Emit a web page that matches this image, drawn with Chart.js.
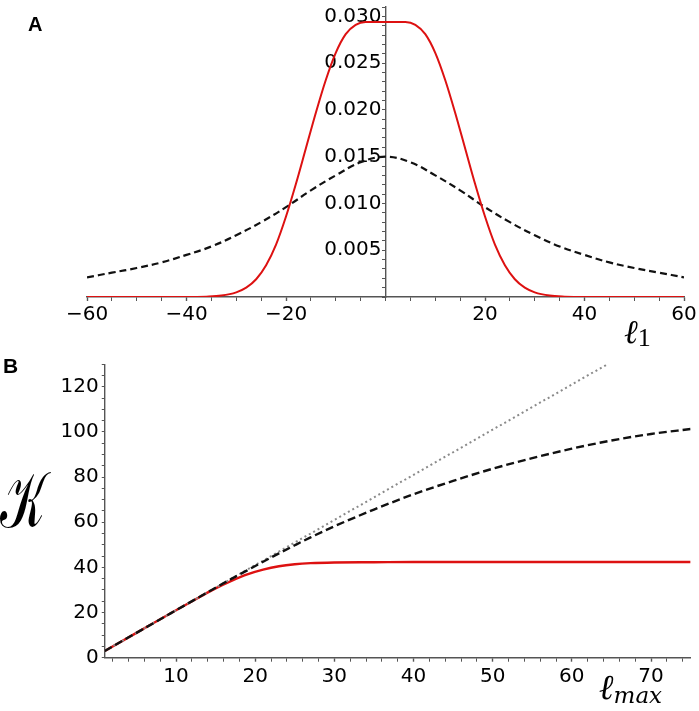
<!DOCTYPE html>
<html>
<head>
<meta charset="utf-8">
<script src="https://cdn.jsdelivr.net/npm/chart.js@4.4.1/dist/chart.umd.min.js"></script>
<style>
  html, body { margin: 0; padding: 0; background: #fff; }
  #wrap { position: relative; width: 699px; height: 711px; overflow: hidden; }
  canvas { position: absolute; left: 0; }
  .lbl { position: absolute; line-height: 1; white-space: nowrap; color: #000; }
  .panel { font-family: "Liberation Sans", Arial, sans-serif; font-weight: bold; font-size: 20px; }
  .math { font-family: "DejaVu Serif", "Liberation Serif", serif; font-style: italic; }
</style>
</head>
<body>
<div id="wrap">
  <canvas id="chartA" width="699" height="340" style="top:0"></canvas>
  <canvas id="chartB" width="699" height="371" style="top:340px"></canvas>
  <div class="lbl panel" style="left:28px;top:14px;">A</div>
  <div class="lbl panel" style="left:3px;top:355px;font-size:21px;">B</div>
  <div class="lbl math" style="left:624px;top:315px;font-size:33px;">ℓ<span style="font-style:normal;font-family:'Liberation Serif',serif;font-size:26px;vertical-align:-3px;">1</span></div>
  <div class="lbl" style="left:0px;top:462px;font-size:62px;font-family:'DejaVu Serif','Noto Sans',serif;font-style:normal;font-weight:normal;transform:scale(0.78,1.25);transform-origin:0 0;">𝒦</div>
  <div class="lbl math" style="left:599px;top:670px;font-size:35px;">ℓ<span style="font-size:23px;vertical-align:-4px;">max</span></div>
</div>
<script>
// ---------- Panel A data ----------
const aX    = [-60,-55,-50,-45,-40,-36,-33,-30,-28,-26,-24,-22,-20,-18,-16,-14,-12,-10,-8,-6,-4,
               0,
               4,6,8,10,12,14,16,18,20,22,24,26,28,30,33,36,40,45,50,55,60];
const aRed  = [0,0,0,0,0,0.00004,0.00015,0.0005,0.0010,0.0019,0.0034,0.0056,0.0086,0.0121,0.0159,0.0197,0.0232,0.0261,0.0281,0.0291,0.0294,
               0.0294,
               0.0294,0.0291,0.0281,0.0261,0.0232,0.0197,0.0159,0.0121,0.0086,0.0056,0.0034,0.0019,0.0010,0.0005,0.00015,0.00004,0,0,0,0,0];
const aDashX = [-60,-55,-50,-45,-40,-35,-30,-25,-20,-15,-10,-5,0,5,10,15,20,25,30,35,40,45,50,55,60];
const aDash  = [0.0021,0.0026,0.0031,0.0037,0.0045,0.0054,0.0066,0.0080,0.0096,0.0114,0.0130,0.0144,0.0150,
                0.0144,0.0130,0.0114,0.0096,0.0080,0.0066,0.0054,0.0045,0.0037,0.0031,0.0026,0.0021];
const aXLabelVals = [-60,-40,-20,20,40,60];
const aXLabels    = ['\u221260','\u221240','\u221220','20','40','60'];
const aYLabelVals = [0.005,0.010,0.015,0.020,0.025,0.030];
const aYLabels    = ['0.005','0.010','0.015','0.020','0.025','0.030'];

// ---------- Panel B data ----------
const bX    = [1,5,10,13,15,17,19,21,23,25,27,30,35,40,45,50,55,60,65,70,75];
const bRed  = [3,11,21,26.9,30.7,34.0,36.9,39.0,40.5,41.4,41.9,42.2,42.3,42.4,42.4,42.4,42.4,42.4,42.4,42.4,42.4];
const bDash = [3,11,21,27,31,34.9,38.7,42.5,46.2,49.8,53.3,58.2,65.6,72.4,78.3,83.7,88.4,92.6,96.2,99.1,101.3];
const bDotX = [1,64.6];
const bDotY = [3,130.2];
const bXLabelVals = [10,20,30,40,50,60,70];
const bXLabels    = ['10','20','30','40','50','60','70'];
const bYLabelVals = [0,20,40,60,80,100,120];
const bYLabels    = ['0','20','40','60','80','100','120'];

const pts = (xs, ys) => xs.map((x, i) => ({x: x, y: ys[i]}));
const tickFont = {family: 'DejaVu Sans', size: 20};
const axisCol = '#555';

function rangeTicks(lo, hi, step) {
  const out = [];
  const n = Math.round((hi - lo) / step);
  for (let i = 0; i <= n; i++) out.push(+(lo + i * step).toFixed(6));
  return out;
}
function labelFor(vals, labels, v) {
  for (let i = 0; i < vals.length; i++) if (Math.abs(vals[i] - v) < 1e-9) return labels[i];
  return '';
}
function isMajor(vals, v) { return vals.some(t => Math.abs(t - v) < 1e-9); }

// ---------- Chart A ----------
new Chart(document.getElementById('chartA'), {
  type: 'line',
  data: {
    datasets: [
      {data: pts(aX, aRed), borderColor: '#dd1111', borderWidth: 2, cubicInterpolationMode: 'monotone'},
      {data: pts(aDashX, aDash), borderColor: '#111', borderWidth: 2.2, borderDash: [7, 4], tension: 0.4}
    ]
  },
  options: {
    responsive: false, animation: false, devicePixelRatio: 1,
    layout: {padding: {left: 87, right: 15, top: 7, bottom: 0}},
    plugins: {legend: {display: false}, tooltip: {enabled: false}},
    elements: {point: {radius: 0}},
    scales: {
      x: {
        type: 'linear', min: -60, max: 60, position: 'bottom',
        afterBuildTicks: s => { s.ticks = rangeTicks(-60, 60, 5).map(v => ({value: v})); },
        afterFit: s => { s.height = 43; },
        grid: {drawOnChartArea: false, drawTicks: true, tickLength: 4, tickColor: axisCol,
               tickWidth: c => isMajor(aXLabelVals, c.tick.value) ? 1.4 : 1},
        border: {display: true, color: axisCol, width: 1.4},
        ticks: {autoSkip: false, maxRotation: 0, padding: 2, font: tickFont, color: '#000',
                callback: v => labelFor(aXLabelVals, aXLabels, v)}
      },
      y: {
        type: 'linear', min: 0, max: 0.031, position: {x: 0},
        afterBuildTicks: s => { s.ticks = rangeTicks(0, 0.031, 0.001).map(v => ({value: v})); },
        afterFit: s => { s.paddingTop = 0; s.paddingBottom = 0; },
        grid: {drawOnChartArea: false, drawTicks: true, tickLength: 3, tickColor: axisCol},
        border: {display: true, color: axisCol, width: 1.4},
        ticks: {autoSkip: false, font: tickFont, color: '#000', callback: () => ''}
      },
      yLabels: {
        type: 'linear', axis: 'y', min: 0, max: 0.031, position: {x: -0.8},
        afterBuildTicks: s => { s.ticks = aYLabelVals.map(v => ({value: v})); },
        afterFit: s => { s.paddingTop = 0; s.paddingBottom = 0; },
        grid: {display: false, drawOnChartArea: false, drawTicks: false},
        border: {display: false},
        ticks: {autoSkip: false, font: tickFont, color: '#000',
                callback: v => labelFor(aYLabelVals, aYLabels, v)}
      }
    }
  }
});

// ---------- Chart B ----------
new Chart(document.getElementById('chartB'), {
  type: 'line',
  data: {
    datasets: [
      {data: pts(bX, bDash), borderColor: '#111', borderWidth: 2.4, borderDash: [8, 4], cubicInterpolationMode: 'monotone'},
      {data: pts(bDotX, bDotY), borderColor: '#8a8a8a', borderWidth: 2, borderDash: [2, 3]},
      {data: pts(bX, bRed), borderColor: '#dd1111', borderWidth: 2.4, cubicInterpolationMode: 'monotone'}
    ]
  },
  options: {
    responsive: false, animation: false, devicePixelRatio: 1,
    layout: {padding: {left: 0, right: 8.4, top: 24.2, bottom: 0}},
    plugins: {legend: {display: false}, tooltip: {enabled: false}},
    elements: {point: {radius: 0}},
    scales: {
      x: {
        type: 'linear', min: 1, max: 75, position: 'bottom',
        afterBuildTicks: s => { s.ticks = rangeTicks(2, 74, 2).map(v => ({value: v})); },
        afterFit: s => { s.height = 53.3; s.paddingLeft = 0; s.paddingRight = 0; },
        grid: {drawOnChartArea: false, drawTicks: true, tickLength: 4, tickColor: axisCol,
               tickWidth: c => isMajor(bXLabelVals, c.tick.value) ? 1.4 : 1},
        border: {display: true, color: axisCol, width: 1.4},
        ticks: {autoSkip: false, maxRotation: 0, padding: 3, font: tickFont, color: '#000',
                callback: v => labelFor(bXLabelVals, bXLabels, v)}
      },
      y: {
        type: 'linear', min: 0, max: 130, position: 'left',
        afterBuildTicks: s => { s.ticks = rangeTicks(0, 130, 5).map(v => ({value: v})); },
        afterFit: s => { s.width = 104.75; s.paddingTop = 0; s.paddingBottom = 0; },
        grid: {drawOnChartArea: false, drawTicks: true, tickLength: 3, tickColor: axisCol},
        border: {display: true, color: axisCol, width: 1.4},
        ticks: {autoSkip: false, padding: 3, font: tickFont, color: '#000',
                callback: v => labelFor(bYLabelVals, bYLabels, v)}
      }
    }
  }
});
</script>
</body>
</html>
